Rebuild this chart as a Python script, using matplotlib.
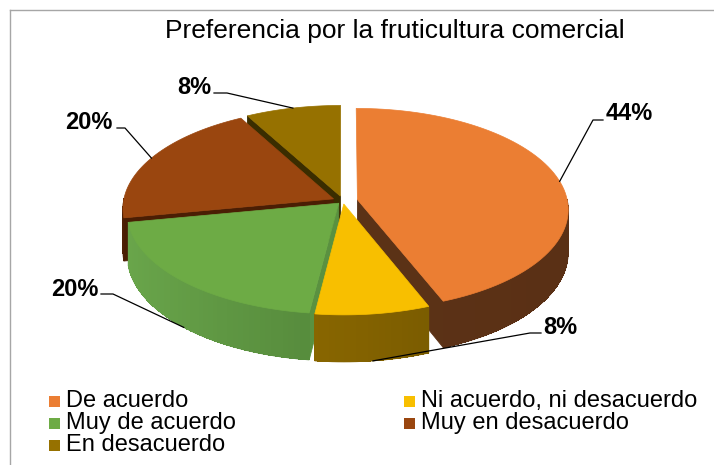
import numpy as np
import matplotlib
matplotlib.use("Agg")
import matplotlib.pyplot as plt
from matplotlib.patches import Polygon, Rectangle
from matplotlib import colors as mcolors

plt.rcParams["font.family"] = ["Liberation Sans", "DejaVu Sans"]

# data
title = "Preferencia por la fruticultura comercial"
labels = ["De acuerdo", "Ni acuerdo, ni desacuerdo", "Muy de acuerdo",
          "Muy en desacuerdo", "En desacuerdo"]
values = [44, 8, 20, 20, 8]

# style
top_colors = ["#EB7E33", "#F8BF00", "#6DAB45", "#9A460F", "#967100"]
wall_light = ["#5E3317", "#A07700", "#6AA64B", "#4E2005", "#3E3000"]
wall_dark = ["#5A3015", "#6A5000", "#3F6B2B", "#4A1E04", "#3A2D00"]
radial_colors = ["#5B3216", "#6A5000", "#5A9140", "#4A1E04", "#3A2D00"]
explode = [0.07, 0.03, 0.03, 0.05, 0.05]

# layout (pixels)
CX, CY, RX, RY, DEPTH, PERSP = 343, 201, 210, 100, 42.5, 0.093
label_pos = [(606, 113, "left"), (543, 327, "left"), (98, 289, "right"),
             (113, 122, "right"), (211, 88, "right")]
label_elbows = [((593, 120), (603, 120)), ((530, 333), (541, 333)),
                ((113, 294), (101, 294)), ((125, 128), (117, 128)),
                ((227, 93), (214, 93))]


def project(u, v, z):
    s = 1.0 / (1.0 + PERSP * v)
    return CX + RX * u * s, CY - RY * v * s + DEPTH * z * s


def rim(theta, off, z):
    t = np.radians(theta)
    return project(off[0] + np.sin(t), off[1] + np.cos(t), z)


def mix(c1, c2, f):
    a = np.array(mcolors.to_rgb(c1))
    b = np.array(mcolors.to_rgb(c2))
    return tuple(a + (b - a) * f)


fig = plt.figure(figsize=(7.14, 4.65), dpi=100)
ax = fig.add_axes([0, 0, 1, 1])
ax.set_xlim(0, 714)
ax.set_ylim(465, 0)
ax.axis("off")

total = sum(values)
bounds = np.concatenate([[0], np.cumsum(values)]) / total * 360.0

walls = []  # (depth key, kind, polygon points, color)
slices = []
for i, v in enumerate(values):
    a0, a1 = bounds[i], bounds[i + 1]
    m = np.radians((a0 + a1) / 2)
    off = (explode[i] * np.sin(m), explode[i] * np.cos(m))
    slices.append((a0, a1, off))

    # curved outer wall, front half only
    lo, hi = max(a0, 90.0), min(a1, 270.0)
    if lo < hi:
        n = int((hi - lo) / 1.5) + 2
        ts = np.linspace(lo, hi, n)
        outline = ([rim(t, off, 0) for t in ts] + [rim(t, off, 1) for t in ts[::-1]])
        far = off[1] + max(np.cos(np.radians(lo)), np.cos(np.radians(hi)))
        walls.append((far + 1e-3, "outline", outline,
                      mix(wall_light[i], wall_dark[i], 0.5)))
        for t0, t1 in zip(ts[:-1], ts[1:]):
            tm = np.radians((t0 + t1) / 2)
            f = (np.sin(tm) + 1) / 2
            t1x = min(t1 + 0.6, hi)
            pts = [rim(t0, off, 0), rim(t1x, off, 0), rim(t1x, off, 1), rim(t0, off, 1)]
            walls.append((off[1] + np.cos(tm), "strip", pts,
                          mix(wall_light[i], wall_dark[i], f)))

    # radial walls facing the viewer
    for te, nrm in ((a0, a0 - 90), (a1, a1 + 90)):
        if np.cos(np.radians(nrm)) < -0.05:
            pts = [project(off[0], off[1], 0), rim(te, off, 0),
                   rim(te, off, 1), project(off[0], off[1], 1)]
            key = off[1] + 0.5 * np.cos(np.radians(te))
            walls.append((key, "radial", pts, radial_colors[i]))

for key, kind, pts, col in sorted(walls, key=lambda w: -w[0]):
    if kind == "strip":
        ax.add_patch(Polygon(pts, closed=True, facecolor=col, lw=0, antialiased=False))
    else:
        ax.add_patch(Polygon(pts, closed=True, facecolor=col, edgecolor=col, lw=0.6))

for i, (a0, a1, off) in enumerate(slices):
    ts = np.linspace(a0, a1, 80)
    pts = [project(off[0], off[1], 0)] + [rim(t, off, 0) for t in ts]
    ax.add_patch(Polygon(pts, closed=True, facecolor=top_colors[i],
                         edgecolor=top_colors[i], lw=0.5))

# data labels with leader lines
for i, (a0, a1, off) in enumerate(slices):
    m = (a0 + a1) / 2
    z = 0 if np.cos(np.radians(m)) >= 0 else 1
    ax0, ay0 = rim(m, off, z)
    (ex, ey), (hx, hy) = label_elbows[i]
    ax.plot([ax0, ex, hx], [ay0, ey, hy], color="black", lw=0.9)
    tx, ty, ha = label_pos[i]
    ax.text(tx, ty, f"{round(values[i] / total * 100)}%", ha=ha, va="center",
            fontsize=17, fontweight="bold")

# title and frame
ax.text(395, 31, title, ha="center", va="center", fontsize=19)
ax.plot([10, 714], [10, 10], color="#A6A6A6", lw=1)
ax.plot([10, 10], [10, 465], color="#A6A6A6", lw=1)

# legend
for i, lab in enumerate(labels):
    col, row = i % 2, i // 2
    x0 = 49 + col * 355
    y0 = 401 + row * 22
    ax.add_patch(Rectangle((x0, y0 - 5.5), 11, 11, facecolor=top_colors[i], lw=0))
    ax.text(x0 + 17, y0, lab, ha="left", va="center", fontsize=17)

fig.savefig("out.png", dpi=100)
